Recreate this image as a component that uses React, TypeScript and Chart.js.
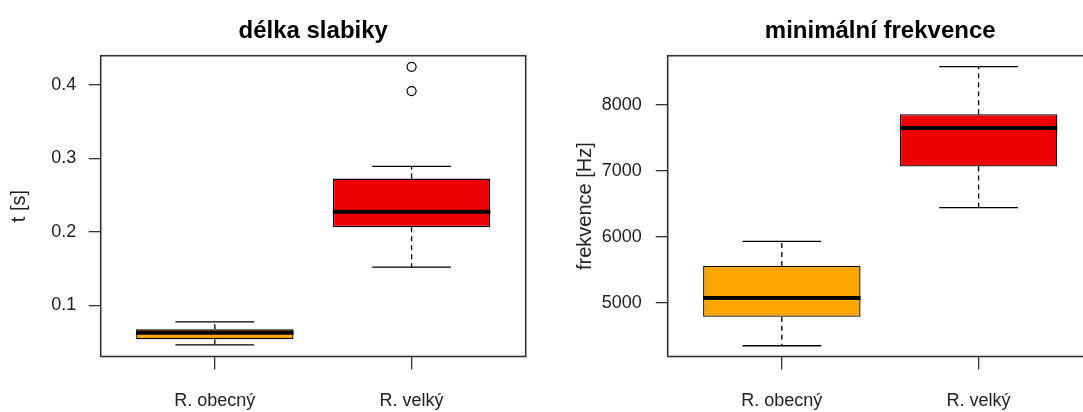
import React, { useEffect, useRef } from 'react';
import { Chart, registerables } from 'chart.js';

Chart.register(...registerables);

// ---- data ----
const categories = ['R. obecný', 'R. velký'];

const lengthMin = [0.0462, 0.152];
const lengthQ1 = [0.0538, 0.2064];
const lengthMedian = [0.0629, 0.2272];
const lengthQ3 = [0.0674, 0.2724];
const lengthMax = [0.0775, 0.2891];
const lengthOutliers: number[][] = [[], [0.3914, 0.4244]];
const lengthTicks = [0.1, 0.2, 0.3, 0.4];

const freqMin = [4348, 6439];
const freqQ1 = [4788, 7061];
const freqMedian = [5070, 7645];
const freqQ3 = [5555, 7853];
const freqMax = [5929, 8576];
const freqOutliers: number[][] = [[], []];
const freqTicks = [5000, 6000, 7000, 8000];

const boxColors = ['#FFA500', '#EE0000'];

const FONT = '"Liberation Sans", Arial, Helvetica, sans-serif';

const boxExtras = {
  id: 'boxExtras',
  afterDatasetsDraw(chart: any, _args: any, opts: any) {
    const { ctx, chartArea, scales } = chart;
    const x = scales.x;
    const y = scales.y;
    const meta = chart.getDatasetMeta(0);
    ctx.save();
    ctx.strokeStyle = '#000';
    opts.lo.forEach((_: number, i: number) => {
      const bar = meta.data[i];
      const cx = x.getPixelForValue(i + 1);
      const half = bar.width / 2;
      const yLo = y.getPixelForValue(opts.lo[i]);
      const yQ1 = y.getPixelForValue(opts.q1[i]);
      const yMed = y.getPixelForValue(opts.med[i]);
      const yQ3 = y.getPixelForValue(opts.q3[i]);
      const yHi = y.getPixelForValue(opts.hi[i]);
      ctx.lineWidth = 1.3;
      ctx.setLineDash([5, 4]);
      ctx.beginPath();
      ctx.moveTo(cx, yQ3);
      ctx.lineTo(cx, yHi);
      ctx.moveTo(cx, yQ1);
      ctx.lineTo(cx, yLo);
      ctx.stroke();
      ctx.setLineDash([]);
      ctx.beginPath();
      ctx.moveTo(cx - half / 2, yHi);
      ctx.lineTo(cx + half / 2, yHi);
      ctx.moveTo(cx - half / 2, yLo);
      ctx.lineTo(cx + half / 2, yLo);
      ctx.stroke();
      ctx.lineWidth = 4;
      ctx.beginPath();
      ctx.moveTo(cx - half, yMed);
      ctx.lineTo(cx + half, yMed);
      ctx.stroke();
    });
    ctx.strokeStyle = '#333';
    ctx.lineWidth = 1.6;
    ctx.strokeRect(chartArea.left, chartArea.top, chartArea.right - chartArea.left, chartArea.bottom - chartArea.top);
    ctx.fillStyle = '#000';
    ctx.font = 'bold 24px ' + FONT;
    ctx.textAlign = 'center';
    ctx.textBaseline = 'alphabetic';
    ctx.fillText(opts.title, (chartArea.left + chartArea.right) / 2, 38);
    ctx.restore();
  },
};

type PanelSpec = {
  title: string;
  yTitle: string;
  lo: number[];
  q1: number[];
  med: number[];
  q3: number[];
  hi: number[];
  outliers: number[][];
  ticks: number[];
  yMin: number;
  yMax: number;
  yAxisWidth: number;
  padRight: number;
  yTitlePad: number;
  tickPad: number;
};

function buildConfig(s: PanelSpec): any {
  const boxData = categories.map((_, i) => ({ x: i + 1, y: [s.q1[i], s.q3[i]] }));
  const outData: { x: number; y: number }[] = [];
  s.outliers.forEach((arr, i) => arr.forEach((v) => outData.push({ x: i + 1, y: v })));
  return {
    type: 'bar',
    data: {
      datasets: [
        {
          type: 'bar',
          data: boxData,
          backgroundColor: boxColors,
          borderColor: '#000',
          borderWidth: 1.3,
          borderSkipped: false,
          barPercentage: 0.8,
          categoryPercentage: 1,
        },
        {
          type: 'scatter',
          data: outData,
          pointRadius: 4.5,
          pointBorderColor: '#000',
          pointBackgroundColor: 'rgba(0,0,0,0)',
          pointBorderWidth: 1.2,
          showLine: false,
        },
      ],
    },
    options: {
      responsive: false,
      animation: false,
      events: [],
      layout: { padding: { left: 0, right: s.padRight, top: 55.7, bottom: 0 } },
      plugins: {
        legend: { display: false },
        tooltip: { enabled: false },
        title: { display: false },
        boxExtras: {
          title: s.title,
          lo: s.lo,
          q1: s.q1,
          med: s.med,
          q3: s.q3,
          hi: s.hi,
        },
      },
      scales: {
        x: {
          type: 'linear',
          min: 0.42,
          max: 2.58,
          offset: false,
          afterBuildTicks: (scale: any) => {
            scale.ticks = categories.map((_, i) => ({ value: i + 1 }));
          },
          afterFit: (scale: any) => {
            scale.height = 55.5;
          },
          ticks: {
            callback: (v: number) => categories[Math.round(v) - 1],
            font: { size: 18, family: FONT },
            color: '#222',
            padding: 21,
            maxRotation: 0,
            autoSkip: false,
          },
          grid: {
            offset: false,
            drawOnChartArea: false,
            drawTicks: true,
            tickLength: 13,
            color: '#333',
            lineWidth: 1.3,
          },
          border: { display: false },
        },
        y: {
          type: 'linear',
          min: s.yMin,
          max: s.yMax,
          afterBuildTicks: (scale: any) => {
            scale.ticks = s.ticks.map((v) => ({ value: v }));
          },
          afterFit: (scale: any) => {
            scale.width = s.yAxisWidth;
          },
          ticks: {
            callback: (v: number) => String(v),
            font: { size: 18, family: FONT },
            color: '#222',
            padding: s.tickPad,
            autoSkip: false,
          },
          grid: { drawOnChartArea: false, drawTicks: true, tickLength: 12, color: '#333', lineWidth: 1.3 },
          border: { display: false },
          title: {
            display: true,
            text: s.yTitle,
            font: { size: 20, family: FONT },
            color: '#222',
            padding: { top: s.yTitlePad, bottom: 0 },
          },
        },
      },
    },
    plugins: [boxExtras],
  };
}

function Panel({ spec, left, width }: { spec: PanelSpec; left: number; width: number }) {
  const ref = useRef<HTMLCanvasElement>(null);
  useEffect(() => {
    const chart = new Chart(ref.current as HTMLCanvasElement, buildConfig(spec));
    return () => chart.destroy();
  }, []);
  return (
    <canvas
      ref={ref}
      width={width}
      height={412}
      style={{ position: 'absolute', left, top: 0, width, height: 412, display: 'block' }}
    />
  );
}

const leftSpec: PanelSpec = {
  title: 'délka slabiky',
  yTitle: 't [s]',
  lo: lengthMin,
  q1: lengthQ1,
  med: lengthMedian,
  q3: lengthQ3,
  hi: lengthMax,
  outliers: lengthOutliers,
  ticks: lengthTicks,
  yMin: 0.0305,
  yMax: 0.4395,
  yAxisWidth: 100.7,
  padRight: 15.3,
  yTitlePad: 7,
  tickPad: 12.5,
};

const rightSpec: PanelSpec = {
  title: 'minimální frekvence',
  yTitle: 'frekvence [Hz]',
  lo: freqMin,
  q1: freqQ1,
  med: freqMedian,
  q3: freqQ3,
  hi: freqMax,
  outliers: freqOutliers,
  ticks: freqTicks,
  yMin: 4185,
  yMax: 8740,
  yAxisWidth: 126.7,
  padRight: 8.3,
  yTitlePad: 32.8,
  tickPad: 14,
};

export default function App() {
  return (
    <div
      style={{
        position: 'fixed',
        left: 0,
        top: 0,
        width: 1083,
        height: 412,
        overflow: 'hidden',
        background: '#fff',
      }}
    >
      <Panel spec={leftSpec} left={0} width={541} />
      <Panel spec={rightSpec} left={541} width={560} />
    </div>
  );
}
